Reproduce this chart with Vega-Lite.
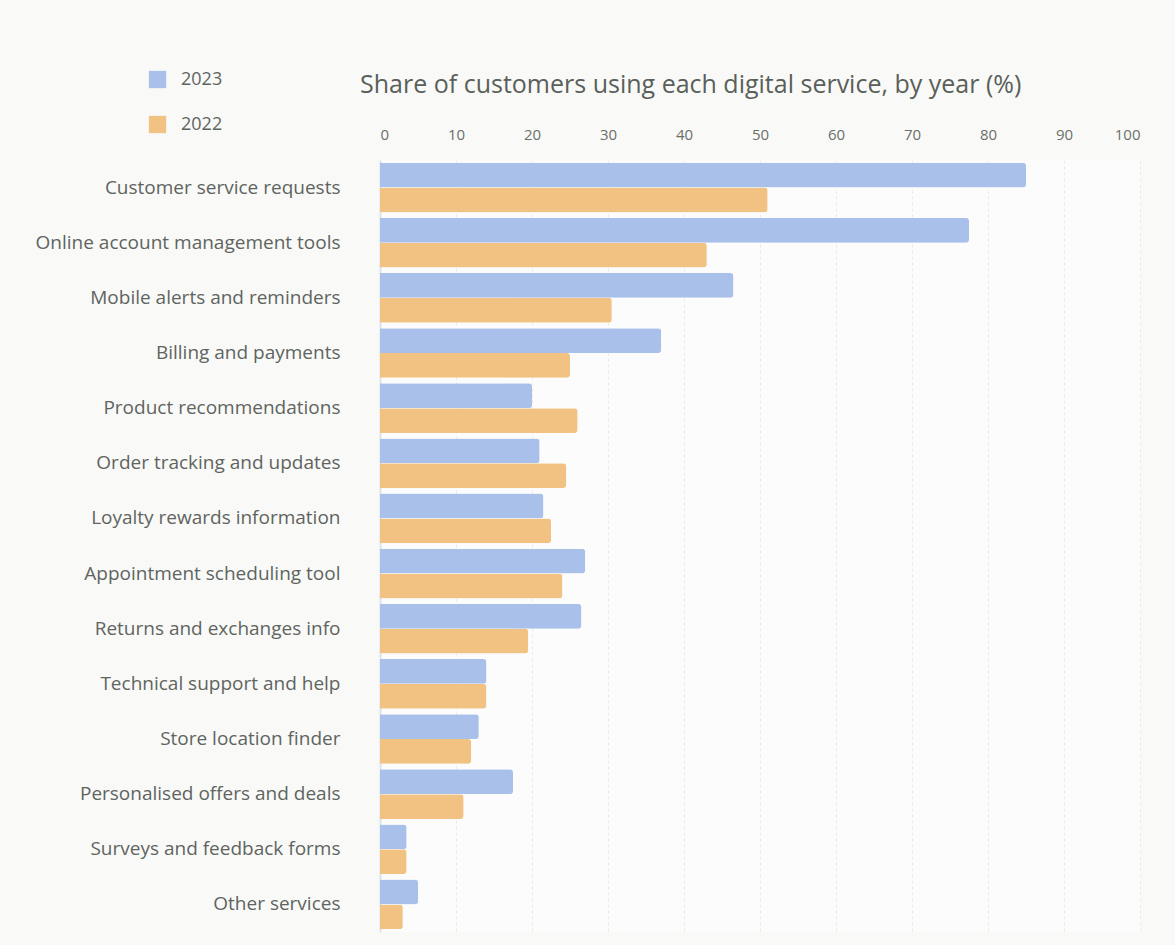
{
  "$schema": "https://vega.github.io/schema/vega-lite/v6.json",
  "width": 760,
  "height": 772,
  "autosize": "none",
  "padding": {"left": 380, "top": 160, "right": 35, "bottom": 13},
  "background": "#f9faf8",
  "title": {
    "text": "Share of customers using each digital service, by year (%)",
    "anchor": "start",
    "dx": 325,
    "dy": 40,
    "fontSize": 25,
    "font": "Open Sans",
    "fontWeight": "normal",
    "color": "#5a5f5a",
    "offset": 12
  },
  "config": {
    "view": {"stroke": null, "fill": "#fbfcfb"},
    "font": "Open Sans"
  },
  "data": {
    "values": [
      {"service": "Customer service requests", "year": "2023", "value": 85},
      {"service": "Customer service requests", "year": "2022", "value": 51},
      {"service": "Online account management tools", "year": "2023", "value": 77.5},
      {"service": "Online account management tools", "year": "2022", "value": 43},
      {"service": "Mobile alerts and reminders", "year": "2023", "value": 46.5},
      {"service": "Mobile alerts and reminders", "year": "2022", "value": 30.5},
      {"service": "Billing and payments", "year": "2023", "value": 37},
      {"service": "Billing and payments", "year": "2022", "value": 25},
      {"service": "Product recommendations", "year": "2023", "value": 20},
      {"service": "Product recommendations", "year": "2022", "value": 26},
      {"service": "Order tracking and updates", "year": "2023", "value": 21},
      {"service": "Order tracking and updates", "year": "2022", "value": 24.5},
      {"service": "Loyalty rewards information", "year": "2023", "value": 21.5},
      {"service": "Loyalty rewards information", "year": "2022", "value": 22.5},
      {"service": "Appointment scheduling tool", "year": "2023", "value": 27},
      {"service": "Appointment scheduling tool", "year": "2022", "value": 24},
      {"service": "Returns and exchanges info", "year": "2023", "value": 26.5},
      {"service": "Returns and exchanges info", "year": "2022", "value": 19.5},
      {"service": "Technical support and help", "year": "2023", "value": 14},
      {"service": "Technical support and help", "year": "2022", "value": 14},
      {"service": "Store location finder", "year": "2023", "value": 13},
      {"service": "Store location finder", "year": "2022", "value": 12},
      {"service": "Personalised offers and deals", "year": "2023", "value": 17.5},
      {"service": "Personalised offers and deals", "year": "2022", "value": 11},
      {"service": "Surveys and feedback forms", "year": "2023", "value": 3.5},
      {"service": "Surveys and feedback forms", "year": "2022", "value": 3.5},
      {"service": "Other services", "year": "2023", "value": 5},
      {"service": "Other services", "year": "2022", "value": 3}
    ]
  },
  "mark": {"type": "bar", "cornerRadiusEnd": 3},
  "encoding": {
    "y": {
      "field": "service",
      "type": "nominal",
      "sort": null,
      "scale": {"paddingInner": 0.1, "paddingOuter": 0.05},
      "axis": {
        "title": null,
        "labelFontSize": 19,
        "labelColor": "#5f645f",
        "labelPadding": 40,
        "labelLimit": 340,
        "ticks": false,
        "domain": true,
        "domainColor": "#dde3ea",
        "domainWidth": 2
      }
    },
    "yOffset": {
      "field": "year",
      "type": "nominal",
      "sort": ["2023", "2022"],
      "scale": {"paddingInner": 0.0}
    },
    "x": {
      "field": "value",
      "type": "quantitative",
      "scale": {"domain": [0, 100], "nice": false},
      "axis": {
        "orient": "top",
        "title": null,
        "values": [0, 10, 20, 30, 40, 50, 60, 70, 80, 90, 100],
        "labelOverlap": false,
        "labelFontSize": 15,
        "labelColor": "#6a6f6a",
        "ticks": false,
        "domain": false,
        "grid": true,
        "gridColor": "#e8ece8",
        "gridDash": [3, 3],
        "labelPadding": 18
      }
    },
    "color": {
      "field": "year",
      "type": "nominal",
      "sort": ["2023", "2022"],
      "scale": {"domain": ["2023", "2022"], "range": ["#a9c0ea", "#f2c283"]},
      "legend": {
        "title": null,
        "orient": "none",
        "legendX": -232,
        "legendY": -90,
        "symbolType": "square",
        "symbolSize": 300,
        "labelFontSize": 18,
        "labelColor": "#5f645f",
        "labelOffset": 14,
        "rowPadding": 26
      }
    }
  }
}
